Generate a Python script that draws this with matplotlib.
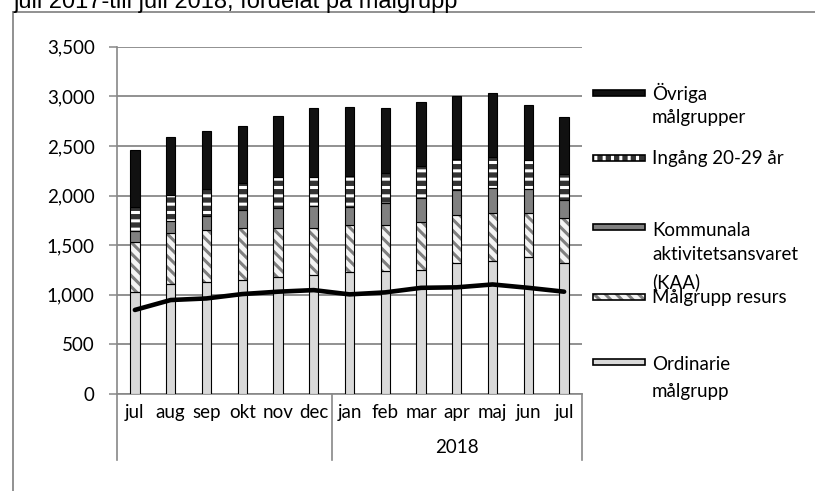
import matplotlib
matplotlib.use('Agg')
import matplotlib.pyplot as plt
import matplotlib.transforms as mtransforms
from matplotlib.patches import Rectangle
from matplotlib.lines import Line2D

# data
months = ['jul', 'aug', 'sep', 'okt', 'nov', 'dec', 'jan', 'feb', 'mar', 'apr', 'maj', 'jun', 'jul']
year_label = '2018'
ordinarie = [1024, 1108, 1128, 1148, 1182, 1195, 1232, 1242, 1249, 1322, 1339, 1376, 1322]
resurs = [504, 510, 523, 520, 493, 473, 470, 460, 486, 481, 487, 450, 447]
kaa = [117, 124, 142, 185, 195, 225, 184, 218, 242, 251, 245, 235, 191]
ingang = [241, 262, 268, 275, 312, 289, 309, 309, 319, 319, 319, 302, 262]
ovriga = [573, 589, 586, 576, 623, 697, 694, 656, 643, 630, 647, 553, 569]
line_vals = [847, 947, 963, 1007, 1031, 1047, 1004, 1024, 1070, 1075, 1104, 1070, 1031]
yticks = [0, 500, 1000, 1500, 2000, 2500, 3000, 3500]
title = 'juli 2017-till juli 2018, fördelat på målgrupp'

# (values, label lines, face, hatch colour, hatch) bottom -> top
series = [
    (ordinarie, ['Ordinarie', 'målgrupp'], '#d9d9d9', None, None),
    (resurs, ['Målgrupp resurs'], '#f4f4f4', '#7f7f7f', '\\\\\\'),
    (kaa, ['Kommunala', 'aktivitetsansvaret', '(KAA)'], '#808080', None, None),
    (ingang, ['Ingång 20-29 år'], '#333333', '#ffffff', '--'),
    (ovriga, ['Övriga', 'målgrupper'], '#111111', None, None),
]

plt.rcParams['hatch.linewidth'] = 2.2
W, H = 815, 491
FS = 13.5


def fx(px):
    return px / W


def fy(py):
    return 1 - py / H


fig = plt.figure(figsize=(W / 100, H / 100), dpi=100)
ax = fig.add_axes([fx(117), fy(394), fx(582) - fx(117), fy(46.7) - fy(394)])

grey = '#888888'
x = list(range(len(months)))
bottom = [0] * len(months)
for vals, lab, face, hcol, hatch in series:
    if hatch:
        ax.bar(x, vals, width=0.26, bottom=bottom, color=face, edgecolor=hcol,
               hatch=hatch, linewidth=0, zorder=2)
        ax.bar(x, vals, width=0.26, bottom=bottom, fill=False, edgecolor='black',
               linewidth=0.8, zorder=3)
    else:
        ax.bar(x, vals, width=0.26, bottom=bottom, color=face, edgecolor='black',
               linewidth=0.8, zorder=3)
    bottom = [b + v for b, v in zip(bottom, vals)]

ax.plot(x, line_vals, color='black', linewidth=3.3, solid_capstyle='round',
        solid_joinstyle='round', zorder=5)

ax.set_xlim(-0.5, len(months) - 0.5)
ax.set_ylim(0, 3500)
ax.set_yticks(yticks)
ax.set_yticklabels([f'{v:,}' for v in yticks], fontsize=FS, family='Lato')
ax.set_xticks(x)
ax.set_xticklabels(months, fontsize=FS, family='Lato')
ax.tick_params(axis='y', length=6, width=1.1, color=grey, pad=10)
ax.tick_params(axis='x', length=0, pad=7)
ax.yaxis.grid(True, color=grey, linewidth=1.3)
ax.set_axisbelow(True)
for s in ['top', 'right']:
    ax.spines[s].set_visible(False)
for s in ['left', 'bottom']:
    ax.spines[s].set_color(grey)
    ax.spines[s].set_linewidth(1.2)

# category separators and group label
trans = mtransforms.blended_transform_factory(ax.transData, ax.transAxes)
for xv in [-0.5, 5.5, len(months) - 0.5]:
    ax.plot([xv, xv], [0, -0.19], transform=trans, clip_on=False, color=grey, linewidth=1.2)
ax.text(9, -0.155, year_label, transform=trans, ha='center', va='center',
        fontsize=FS, family='Lato')

# legend drawn by hand, Excel style
patch_y = [362, 297, 227, 158, 93]
text_y = [[365, 392], [298], [230, 255, 282], [159], [93, 118]]
for (vals, lab, face, hcol, hatch), py, tys in zip(series, patch_y, text_y):
    r = Rectangle((fx(593), fy(py + 3)), fx(645) - fx(593), 6 / H, transform=fig.transFigure,
                  facecolor=face, edgecolor=hcol if hatch else 'black',
                  hatch=('||' if hatch == '--' else hatch), linewidth=0 if hatch else 1.2)
    fig.add_artist(r)
    if hatch:
        fig.add_artist(Rectangle((fx(593), fy(py + 3)), fx(645) - fx(593), 6 / H,
                                 transform=fig.transFigure, fill=False,
                                 edgecolor='black', linewidth=1.2))
    for line, ty in zip(lab, tys):
        fig.text(fx(652), fy(ty), line, ha='left', va='center', fontsize=FS, family='Lato')

# outer chart frame and title (clipped at the top as in the source)
fig.add_artist(Line2D([fx(13), fx(13)], [fy(12), 0], color=grey, linewidth=1.3))
fig.add_artist(Line2D([fx(13), 1], [fy(12), fy(12)], color=grey, linewidth=1.3))
fig.text(fx(13), fy(8), title, ha='left', va='baseline', fontsize=17, family='Liberation Sans')

fig.savefig('out.png', dpi=100)
